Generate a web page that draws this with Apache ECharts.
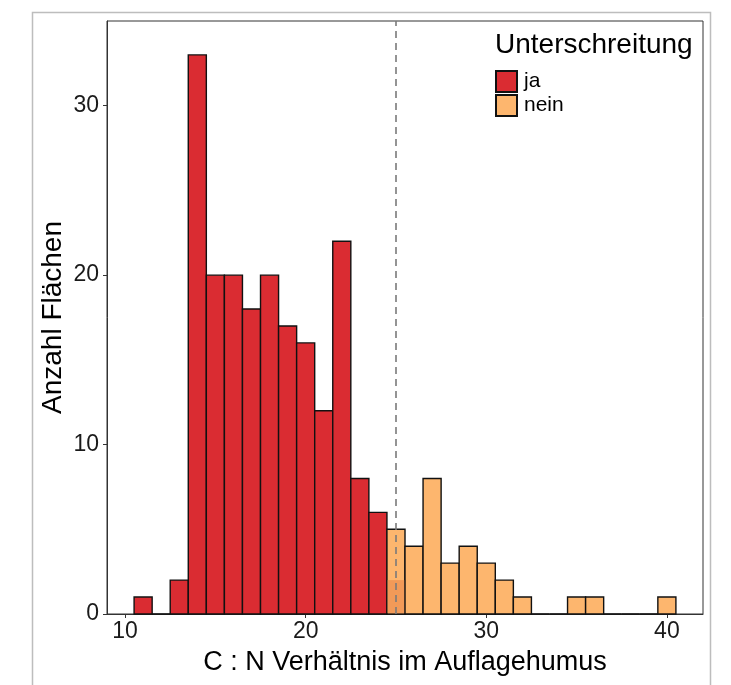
<!DOCTYPE html>
<html>
<head>
<meta charset="utf-8">
<script src="https://cdn.jsdelivr.net/npm/echarts@6/dist/echarts.min.js"></script>
<style>html,body{margin:0;padding:0;background:#fff}#c{width:731px;height:685px}</style>
</head>
<body>
<div id="c"></div>
<script>
// Bin centres (binwidth 1) and counts
var jaBins = [11, 12, 13, 14, 15, 16, 17, 18, 19, 20, 21, 22, 23, 24];
var jaCounts = [1, 0, 2, 33, 20, 20, 18, 20, 17, 16, 12, 22, 8, 6];
var neinBins = [25, 26, 27, 28, 29, 30, 31, 32, 33, 34, 35, 36, 37, 38, 39, 40];
var neinCounts = [5, 4, 8, 3, 4, 3, 2, 1, 0, 0, 1, 1, 0, 0, 0, 1];
var overlapBins = [25];
var overlapCounts = [2];
var threshold = 25;
var xTicks = [10, 20, 30, 40];
var yTicks = [0, 10, 20, 30];
var binWidth = 1;

var RED = '#DA2C32', ORANGE = '#FDB66E', OVER = '#F29A58';
var FONT = 'Liberation Sans, Arial, sans-serif';

function pairs(b, c) { return b.map(function (x, i) { return [x, c[i]]; }); }

function renderBar(params, api) {
  var x = api.value(0), y = api.value(1);
  var p0 = api.coord([x - binWidth / 2, y]);
  var p1 = api.coord([x + binWidth / 2, 0]);
  return {
    type: 'rect',
    shape: { x: p0[0], y: p0[1], width: p1[0] - p0[0], height: p1[1] - p0[1] },
    style: { fill: api.visual('color'), stroke: '#111', lineWidth: 1.4 }
  };
}
function renderOverlap(params, api) {
  var x = api.value(0), y = api.value(1);
  var p0 = api.coord([x - binWidth / 2, y]);
  var p1 = api.coord([x + binWidth / 2, 0]);
  return {
    type: 'rect',
    shape: { x: p0[0] + 0.8, y: p0[1], width: p1[0] - p0[0] - 1.6, height: p1[1] - p0[1] - 0.8 },
    style: { fill: OVER }
  };
}

var chart = echarts.init(document.getElementById('c'), null, { renderer: 'canvas' });
chart.setOption({
  animation: false,
  backgroundColor: '#fff',
  textStyle: { fontFamily: FONT },
  graphic: [{
    type: 'rect', z: -10, silent: true,
    shape: { x: 32.5, y: 12.5, width: 678, height: 700 },
    style: { fill: 'none', stroke: '#bdbdbd', lineWidth: 1.5 }
  }],
  title: {
    text: 'Unterschreitung', left: 490, top: 26,
    textStyle: { fontFamily: FONT, fontSize: 28, fontWeight: 'normal', color: '#000' }
  },
  legend: {
    orient: 'vertical', left: 490, top: 65, itemGap: 1,
    itemWidth: 21, itemHeight: 21, icon: 'rect',
    data: ['ja', 'nein'],
    textStyle: { fontFamily: FONT, fontSize: 21, color: '#000', padding: [0, 0, 0, 2] }
  },
  grid: {
    left: 107, right: 28, top: 21, bottom: 71,
    show: true, borderColor: '#333', borderWidth: 1, backgroundColor: '#fff'
  },
  xAxis: {
    type: 'value', min: 9, max: 42,
    name: 'C : N Verhältnis im Auflagehumus', nameLocation: 'middle', nameGap: 35,
    nameMoveOverlap: false,
    nameTextStyle: { fontFamily: FONT, fontSize: 27, color: '#000' },
    axisLine: { show: true, onZero: false, lineStyle: { color: '#333', width: 1 } },
    axisTick: { show: true, length: 4, customValues: xTicks, lineStyle: { color: '#333' } },
    axisLabel: { customValues: xTicks, fontFamily: FONT, fontSize: 23, color: '#1a1a1a', margin: 6 },
    splitLine: { show: false }
  },
  yAxis: {
    type: 'value', min: 0, max: 35,
    name: 'Anzahl Flächen', nameLocation: 'middle', nameGap: 40, nameRotate: 90,
    nameMoveOverlap: false,
    nameTextStyle: { fontFamily: FONT, fontSize: 28, color: '#000' },
    axisLine: { show: true, lineStyle: { color: '#333', width: 1 } },
    axisTick: { show: true, length: 4, customValues: yTicks, lineStyle: { color: '#333' } },
    axisLabel: { customValues: yTicks, fontFamily: FONT, fontSize: 23, color: '#1a1a1a', margin: 8 },
    splitLine: { show: false }
  },
  series: [
    {
      name: 'ja', type: 'custom', renderItem: renderBar,
      itemStyle: { color: RED, borderColor: '#111', borderWidth: 1.4 },
      encode: { x: 0, y: 1 }, data: pairs(jaBins, jaCounts), z: 2
    },
    {
      name: 'nein', type: 'custom', renderItem: renderBar,
      itemStyle: { color: ORANGE, borderColor: '#111', borderWidth: 1.4 },
      encode: { x: 0, y: 1 }, data: pairs(neinBins, neinCounts), z: 2
    },
    {
      name: 'overlap', type: 'custom', renderItem: renderOverlap,
      encode: { x: 0, y: 1 }, data: pairs(overlapBins, overlapCounts), z: 3
    },
    {
      name: 'threshold', type: 'line', data: [], z: 5,
      markLine: {
        silent: true, symbol: 'none', label: { show: false },
        lineStyle: { color: '#7a7a7a', type: [7, 5], width: 1.6 },
        data: [{ xAxis: threshold }]
      }
    }
  ]
});
</script>
</body>
</html>
